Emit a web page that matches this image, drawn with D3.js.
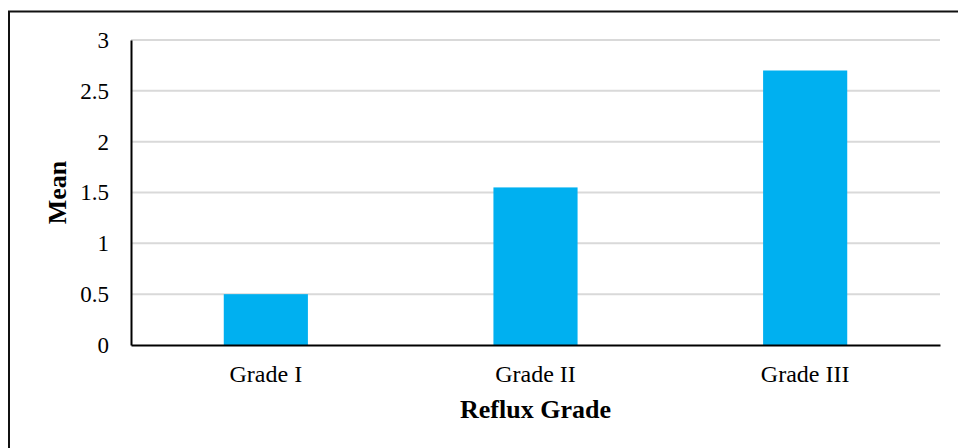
<!DOCTYPE html>
<html>
<head>
<meta charset="utf-8">
<script src="https://cdn.jsdelivr.net/npm/d3@7"></script>
<style>
  html, body { margin: 0; padding: 0; background: #fff; }
  svg { display: block; font-family: "Liberation Serif", "Times New Roman", serif; }
</style>
</head>
<body>
<svg id="chart" width="958" height="448"></svg>
<script>
// Mean value per reflux grade
const categories = ["Grade I", "Grade II", "Grade III"];
const meanValues = [0.5, 1.55, 2.7];
const yTicks = [0, 0.5, 1, 1.5, 2, 2.5, 3];
const yTickLabels = ["0", "0.5", "1", "1.5", "2", "2.5", "3"];

const svg = d3.select("#chart");
const plot = { left: 131, right: 940, top: 40, bottom: 345 };

// outer chart frame
svg.append("rect")
  .attr("x", 9).attr("y", 11.5)
  .attr("width", 1000).attr("height", 500)
  .attr("fill", "none").attr("stroke", "#111").attr("stroke-width", 2);

const x = d3.scaleBand().domain(categories).range([plot.left, plot.right]).padding(0);
const y = d3.scaleLinear().domain([0, 3]).range([plot.bottom, plot.top]);
const barWidth = x.bandwidth() * 0.312;

// horizontal gridlines
svg.append("g")
  .selectAll("line")
  .data(yTicks.filter(d => d > 0))
  .join("line")
  .attr("x1", plot.left).attr("x2", plot.right)
  .attr("y1", d => y(d)).attr("y2", d => y(d))
  .attr("stroke", "#d9d9d9").attr("stroke-width", 2);

// bars
svg.append("g")
  .selectAll("rect")
  .data(categories)
  .join("rect")
  .attr("x", (d) => x(d) + x.bandwidth() / 2 - barWidth / 2)
  .attr("width", barWidth)
  .attr("y", (d, i) => y(meanValues[i]))
  .attr("height", (d, i) => y(0) - y(meanValues[i]))
  .attr("fill", "#00b0f0");

// y axis
const yAxis = d3.axisLeft(y)
  .tickValues(yTicks)
  .tickFormat((d, i) => yTickLabels[i])
  .tickSize(0)
  .tickPadding(22);
const gy = svg.append("g").attr("transform", `translate(${plot.left},0)`).call(yAxis);
gy.select(".domain").attr("stroke", "#000").attr("stroke-width", 2);
gy.selectAll("text")
  .attr("font-family", "Liberation Serif, Times New Roman, serif")
  .attr("font-size", 23).attr("fill", "#000");

// x axis
const xAxis = d3.axisBottom(x).tickSize(0).tickPadding(20);
const gx = svg.append("g").attr("transform", `translate(0,${plot.bottom})`).call(xAxis);
gx.select(".domain").attr("stroke", "#000").attr("stroke-width", 2);
gx.selectAll("text")
  .attr("font-family", "Liberation Serif, Times New Roman, serif")
  .attr("font-size", 24).attr("fill", "#000");

// axis titles
svg.append("text")
  .attr("x", (plot.left + plot.right) / 2).attr("y", 418)
  .attr("text-anchor", "middle")
  .attr("font-weight", "bold").attr("font-size", 26)
  .text("Reflux Grade");

svg.append("text")
  .attr("transform", `translate(66,${(plot.top + plot.bottom) / 2}) rotate(-90)`)
  .attr("text-anchor", "middle")
  .attr("font-weight", "bold").attr("font-size", 26)
  .text("Mean");
</script>
</body>
</html>
